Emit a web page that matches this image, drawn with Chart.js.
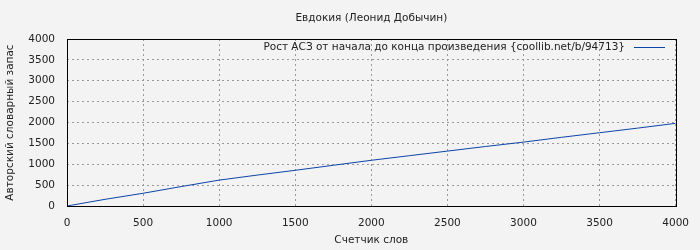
<!DOCTYPE html>
<html><head><meta charset="utf-8">
<script src="https://cdn.jsdelivr.net/npm/chart.js@4/dist/chart.umd.min.js"></script>
<style>html,body{margin:0;padding:0;background:#f3f3f3;}#c{display:block;}</style>
</head><body>
<canvas id="c" width="700" height="250"></canvas>
<script>
const titleText = "Евдокия (Леонид Добычин)";
const seriesLabel = "Рост АСЗ от начала до конца произведения {coollib.net/b/94713}";
const xTitle = "Счетчик слов";
const yTitle = "Авторский словарный запас";
const words = [0,250,500,750,1000,1250,1500,1750,2000,2250,2500,2750,3000,3250,3500,3750,4000];
const vocab = [0,160,305,465,620,740,855,975,1095,1205,1315,1425,1530,1645,1755,1865,1980];

const FONT = "DejaVu Sans";
const FS = 10.5;
const extras = {
  id:'extras',
  beforeDraw(chart){
    const c=chart.ctx; c.save(); c.fillStyle='#f3f3f3'; c.fillRect(0,0,chart.width,chart.height); c.restore();
  },
  afterDraw(chart){
    const c=chart.ctx, a=chart.chartArea;
    c.save();
    c.strokeStyle='#000'; c.lineWidth=1;
    c.strokeRect(Math.round(a.left)+0.5, Math.round(a.top)+0.5, Math.round(a.right-a.left), Math.round(a.bottom-a.top));
    c.fillStyle='#222'; c.font=FS+'px "'+FONT+'"'; c.textBaseline='middle';
    c.textAlign='center'; c.fillText(titleText,(a.left+a.right)/2,18);
    c.textAlign='right'; c.fillText(seriesLabel,625,47);
    c.strokeStyle=chart.data.datasets[0].borderColor; c.beginPath(); c.moveTo(634,47.5); c.lineTo(665,47.5); c.stroke();
    c.restore();
  }
};
new Chart(document.getElementById('c'),{
  type:'line',
  data:{datasets:[{label:seriesLabel,data:words.map((w,i)=>({x:w,y:vocab[i]})),borderColor:'#0b44a8',borderWidth:1,pointRadius:0,tension:0,fill:false}]},
  options:{
    responsive:false,animation:false,
    layout:{padding:{left:0,right:23,top:39,bottom:0}},
    plugins:{legend:{display:false},title:{display:false},tooltip:{enabled:false}},
    scales:{
      x:{type:'linear',min:0,max:4000,
        ticks:{stepSize:500,color:'#222',font:{family:FONT,size:FS},padding:11,maxRotation:0,callback:v=>String(v)},
        grid:{color:'#999',drawTicks:false,tickLength:0},
        border:{display:false,dash:[2,3]},
        title:{display:true,text:xTitle,color:'#222',font:{family:FONT,size:FS},padding:{top:4,bottom:3}},
        afterFit(s){s.height=44;}
      },
      y:{min:0,max:4000,
        ticks:{stepSize:500,color:'#222',font:{family:FONT,size:FS},padding:12,callback:v=>String(v)},
        grid:{color:'#999',drawTicks:false,tickLength:0},
        border:{display:false,dash:[2,3]},
        title:{display:true,text:yTitle,color:'#222',font:{family:FONT,size:FS},padding:{top:4,bottom:4}},
        afterFit(s){s.width=67;}
      }
    }
  },
  plugins:[extras]
});
</script>
</body></html>
